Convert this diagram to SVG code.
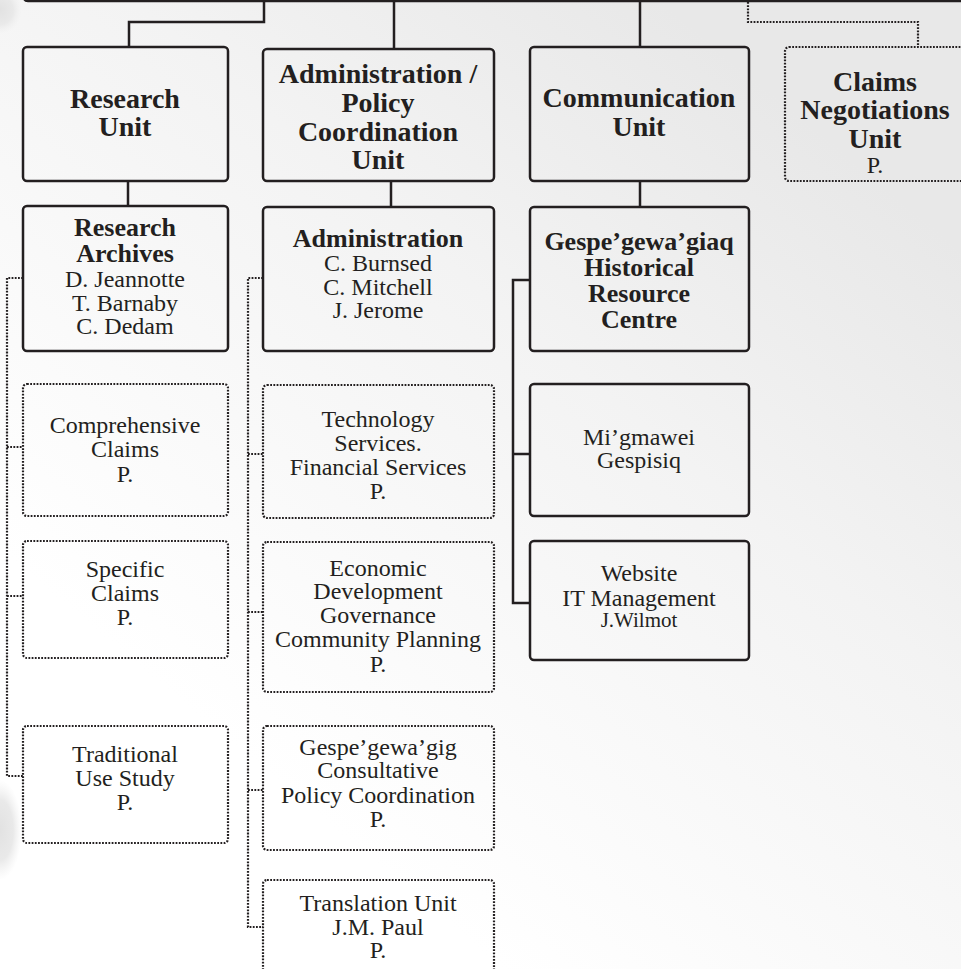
<svg xmlns="http://www.w3.org/2000/svg" width="961" height="969" viewBox="0 0 961 969">
<defs>
<linearGradient id="bg" x1="420" y1="900" x2="961" y2="250" gradientUnits="userSpaceOnUse">
<stop offset="0" stop-color="#ffffff"/>
<stop offset="0.6" stop-color="#f3f3f3"/>
<stop offset="1" stop-color="#e8e8e8"/>
</linearGradient>
<radialGradient id="blob">
<stop offset="0" stop-color="#e2e2e2"/>
<stop offset="0.6" stop-color="#e9e9e9"/>
<stop offset="1" stop-color="#f0f0f0" stop-opacity="0"/>
</radialGradient>
<style>
.solid{fill:none;stroke:#231f20;stroke-width:2.5}
.dot{fill:none;stroke:#231f20;stroke-width:2.2;stroke-dasharray:1.8 1.4}
.line{fill:none;stroke:#231f20;stroke-width:2.5}
.dline{fill:none;stroke:#231f20;stroke-width:2.2;stroke-dasharray:1.8 1.4}
.t text{fill:#231f20;text-anchor:middle}
.b1{font-weight:bold;font-size:28px}
.b2{font-weight:bold;font-size:26px}
.r{font-size:24px}
.s{font-size:21px}
</style>
</defs>
<rect x="0" y="0" width="961" height="969" fill="#ffffff"/>
<rect x="0" y="0" width="961" height="969" fill="url(#bg)"/>
<ellipse cx="0" cy="830" rx="22" ry="50" fill="url(#blob)"/>
<ellipse cx="0" cy="10" rx="22" ry="24" fill="url(#blob)"/>

<g id="parent-edge">
<path class="line" d="M24,-6 L24,-3 Q24,1 28,1 L965,1"/>
</g>

<g id="connectors">
<path class="line" d="M264,1 V22 H129 V47"/>
<path class="line" d="M394,1 V49"/>
<path class="line" d="M640,1 V47"/>
<path class="line" d="M128,181 V206"/>
<path class="line" d="M391,181 V207"/>
<path class="line" d="M640,181 V207"/>
<path class="line" d="M530,280 H513 V603 H530"/>
<path class="line" d="M513,454 H530"/>
<path class="dline" d="M748,2 V22 H918 V47"/>
<path class="dline" d="M23,278 H7 V776 H23"/>
<path class="dline" d="M7,447 H23"/>
<path class="dline" d="M7,596 H23"/>
<path class="dline" d="M263,278 H248 V927 H263"/>
<path class="dline" d="M248,454 H263"/>
<path class="dline" d="M248,612 H263"/>
<path class="dline" d="M248,790 H263"/>
</g>

<g class="t" font-family="'Liberation Serif', 'DejaVu Serif', 'Times New Roman', serif">
<g id="research-unit">
<rect class="solid" x="23" y="47" width="205" height="134" rx="4"/>
<text class="b1" x="125" y="108">Research</text>
<text class="b1" x="125" y="136">Unit</text>
</g>

<g id="admin-policy-unit">
<rect class="solid" x="263" y="49" width="231" height="132" rx="4"/>
<text class="b1" x="378" y="83">Administration /</text>
<text class="b1" x="378" y="112">Policy</text>
<text class="b1" x="378" y="141">Coordination</text>
<text class="b1" x="378" y="169">Unit</text>
</g>

<g id="communication-unit">
<rect class="solid" x="530" y="47" width="219" height="134" rx="4"/>
<text class="b1" x="639" y="107">Communication</text>
<text class="b1" x="639" y="136">Unit</text>
</g>

<g id="claims-negotiations-unit">
<rect class="dot" x="785" y="47" width="182" height="134" rx="4"/>
<text class="b1" x="875" y="91">Claims</text>
<text class="b1" x="875" y="119">Negotiations</text>
<text class="b1" x="875" y="148">Unit</text>
<text class="r" x="875" y="173">P.</text>
</g>

<g id="research-archives">
<rect class="solid" x="23" y="206" width="205" height="145" rx="4"/>
<text class="b2" x="125" y="236">Research</text>
<text class="b2" x="125" y="262">Archives</text>
<text class="r" x="125" y="287">D. Jeannotte</text>
<text class="r" x="125" y="311">T. Barnaby</text>
<text class="r" x="125" y="334">C. Dedam</text>
</g>

<g id="administration">
<rect class="solid" x="263" y="207" width="231" height="144" rx="4"/>
<text class="b2" x="378" y="247">Administration</text>
<text class="r" x="378" y="271">C. Burnsed</text>
<text class="r" x="378" y="295">C. Mitchell</text>
<text class="r" x="378" y="318">J. Jerome</text>
</g>

<g id="historical-resource-centre">
<rect class="solid" x="530" y="207" width="219" height="144" rx="4"/>
<text class="b2" x="639" y="250">Gespe’gewa’giaq</text>
<text class="b2" x="639" y="276">Historical</text>
<text class="b2" x="639" y="302">Resource</text>
<text class="b2" x="639" y="328">Centre</text>
</g>

<g id="comprehensive-claims">
<rect class="dot" x="23" y="384" width="205" height="132" rx="4"/>
<text class="r" x="125" y="433">Comprehensive</text>
<text class="r" x="125" y="457">Claims</text>
<text class="r" x="125" y="482">P.</text>
</g>

<g id="specific-claims">
<rect class="dot" x="23" y="541" width="205" height="117" rx="4"/>
<text class="r" x="125" y="577">Specific</text>
<text class="r" x="125" y="601">Claims</text>
<text class="r" x="125" y="625">P.</text>
</g>

<g id="traditional-use-study">
<rect class="dot" x="23" y="726" width="205" height="117" rx="4"/>
<text class="r" x="125" y="762">Traditional</text>
<text class="r" x="125" y="786">Use Study</text>
<text class="r" x="125" y="810">P.</text>
</g>

<g id="technology-services">
<rect class="dot" x="263" y="385" width="231" height="133" rx="4"/>
<text class="r" x="378" y="427">Technology</text>
<text class="r" x="378" y="451">Services.</text>
<text class="r" x="378" y="475">Financial Services</text>
<text class="r" x="378" y="499">P.</text>
</g>

<g id="economic-development">
<rect class="dot" x="263" y="542" width="231" height="150" rx="4"/>
<text class="r" x="378" y="576">Economic</text>
<text class="r" x="378" y="599">Development</text>
<text class="r" x="378" y="623">Governance</text>
<text class="r" x="378" y="647">Community Planning</text>
<text class="r" x="378" y="672">P.</text>
</g>

<g id="consultative-policy">
<rect class="dot" x="263" y="726" width="231" height="124" rx="4"/>
<text class="r" x="378" y="755">Gespe’gewa’gig</text>
<text class="r" x="378" y="778">Consultative</text>
<text class="r" x="378" y="803">Policy Coordination</text>
<text class="r" x="378" y="827">P.</text>
</g>

<g id="translation-unit">
<rect class="dot" x="263" y="880" width="231" height="110" rx="4"/>
<text class="r" x="378" y="911">Translation Unit</text>
<text class="r" x="378" y="935">J.M. Paul</text>
<text class="r" x="378" y="958">P.</text>
</g>

<g id="migmawei-gespisiq">
<rect class="solid" x="530" y="384" width="219" height="132" rx="4"/>
<text class="r" x="639" y="445">Mi’gmawei</text>
<text class="r" x="639" y="468">Gespisiq</text>
</g>

<g id="website-it">
<rect class="solid" x="530" y="541" width="219" height="119" rx="4"/>
<text class="r" x="639" y="581">Website</text>
<text class="r" x="639" y="606">IT Management</text>
<text class="s" x="639" y="627">J.Wilmot</text>
</g>
</g>
</svg>
